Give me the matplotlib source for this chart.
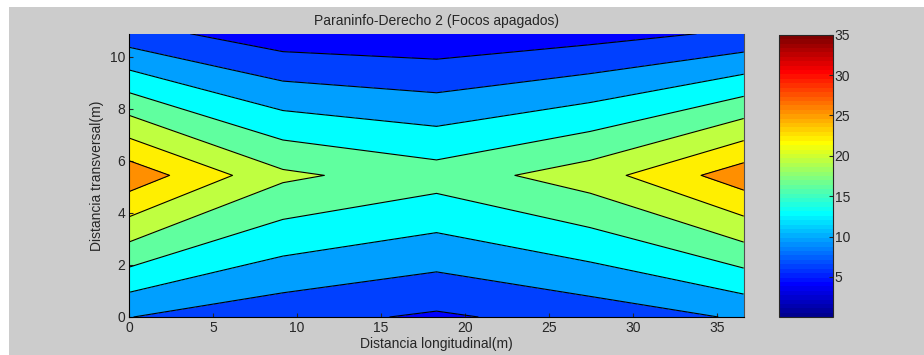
import numpy as np
import matplotlib
matplotlib.use('Agg')
import matplotlib.pyplot as plt
from matplotlib.colors import ListedColormap, Normalize
from matplotlib.cm import ScalarMappable
from matplotlib.patches import Rectangle

# measurement grid (m)
x_long = [0, 9.15, 18.3, 27.45, 36.6]
y_trans = [0, 5.44, 10.88]

# measured values, one row per transversal position
row_y0 = [9.61, 7.44, 5.87, 7.63, 9.93]
row_y1 = [27.6, 19.79, 17.42, 20.81, 27.37]
row_y2 = [7.63, 4.40, 3.92, 5.13, 6.89]

contour_levels = [6.35, 9.55, 12.75, 15.95, 19.15, 22.35, 25.55]
cbar_ticks = [5, 10, 15, 20, 25, 30, 35]
clim = (0, 35)

#------------------------------------------------------------------------------
# MATLAB style jet(64)
n = 16
u = np.concatenate([np.arange(1, n + 1) / n, np.ones(n - 1), np.arange(n, 0, -1) / n])
g = 8 + np.arange(1, len(u) + 1)
r = g + n
b = g - n
J = np.zeros((64, 3))
J[r[r <= 64] - 1, 0] = u[r <= 64]
J[g - 1, 1] = u
J[b[b >= 1] - 1, 2] = u[b >= 1]
jet64 = ListedColormap(J)
norm = Normalize(vmin=clim[0], vmax=clim[1])

X, Y = np.meshgrid(x_long, y_trans)
Z = np.array([row_y0, row_y1, row_y2])

fill_levels = [Z.min()] + contour_levels + [Z.max() + 0.01]
fill_colors = [jet64(norm(v)) for v in fill_levels[:-1]]

plt.rcParams['font.family'] = ['Liberation Sans', 'DejaVu Sans']
fig = plt.figure(figsize=(9.24, 3.55), dpi=100, facecolor='white')
fig.patches.append(Rectangle((9 / 924, 0), 1, 1 - 7 / 355, transform=fig.transFigure,
                             facecolor='#cccccc', edgecolor='none', zorder=-10))

ax = fig.add_axes([129.3 / 924, 38 / 355, 614.4 / 924, 283.3 / 355])
ax.contourf(X, Y, Z, levels=fill_levels, colors=fill_colors)
ax.contour(X, Y, Z, levels=contour_levels, colors='black', linewidths=0.8)

ax.set_xlim(0, 36.6)
ax.set_ylim(0, 10.88)
ax.set_xticks([0, 5, 10, 15, 20, 25, 30, 35])
ax.set_yticks([0, 2, 4, 6, 8, 10])
ax.tick_params(direction='in', length=3, labelsize=10, colors='#262626', pad=3)
ax.spines['top'].set_visible(False)
ax.spines['right'].set_color('#505050')
ax.set_title('Paraninfo-Derecho 2 (Focos apagados)', fontsize=10, color='#262626', pad=6)
ax.set_xlabel('Distancia longitudinal(m)', fontsize=10, color='#262626', labelpad=1)
ax.set_ylabel('Distancia transversal(m)', fontsize=10, color='#262626', labelpad=4)

cax = fig.add_axes([779.3 / 924, 37.7 / 355, 54 / 924, 282.6 / 355])
cb = fig.colorbar(ScalarMappable(norm=norm, cmap=jet64), cax=cax)
cb.set_ticks(cbar_ticks)
cb.ax.tick_params(direction='in', length=3, labelsize=10, colors='#262626', pad=1)
cb.outline.set_edgecolor('#262626')

plt.savefig('out.png', dpi=100, facecolor=fig.get_facecolor())
